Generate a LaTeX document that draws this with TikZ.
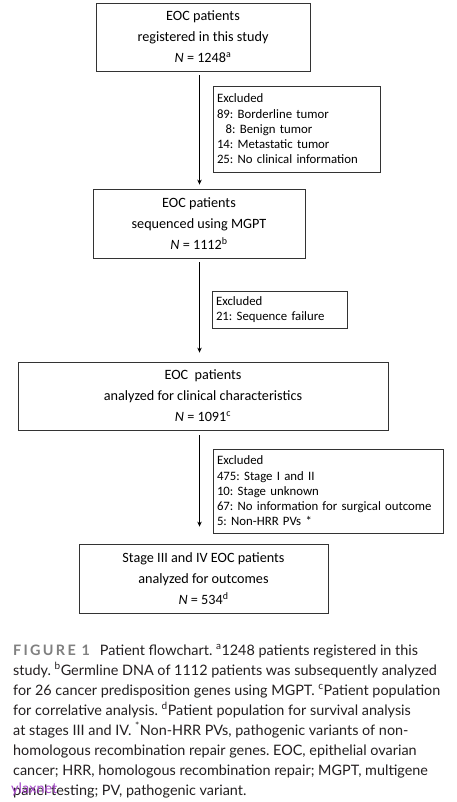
\documentclass[tikz,border=0pt]{standalone}
\usepackage{fontspec}
\setmainfont{Carlito}
\newfontfamily\capfont{Lato}
\usetikzlibrary{arrows.meta}
\definecolor{boxline}{HTML}{333333}
\definecolor{capgray}{HTML}{808080}
\definecolor{captext}{HTML}{231F20}
\definecolor{wmark}{HTML}{A64AC9}
\frenchspacing
\begin{document}
\begin{tikzpicture}[x=1pt,y=-1pt,
  mainbox/.style={draw=boxline, line width=0.8pt, align=center, inner sep=0pt,
    font=\fontsize{14.2}{21}\selectfont},
  exbox/.style={draw=boxline, line width=0.8pt, align=left, inner xsep=4pt, inner ysep=0pt,
    font=\fontsize{12.8}{15.2}\selectfont},
  flow/.style={-{Stealth[length=5pt,width=4.5pt]}, line width=0.8pt, black},
  capline/.style={anchor=base west, inner sep=0pt, text=captext,
    font=\capfont\fontsize{14.4}{20}\selectfont},
  wm/.style={anchor=base west, inner sep=0pt, text=wmark,
    font=\capfont\fontsize{14.5}{16}\selectfont}
]
\useasboundingbox (0,0) rectangle (457,802);
\fill[white] (0,0) rectangle (457,802);

% main boxes
\node[mainbox, minimum width=214pt, minimum height=68pt] (b1) at (203,37)
  {\rule{0pt}{3pt}EOC patients\\registered in this study\\\textit{N} = 1248\textsuperscript{a}};
\node[mainbox, minimum width=212pt, minimum height=69pt] (b2) at (199,223.5)
  {\rule{0pt}{3pt}EOC patients\\sequenced using MGPT\\\textit{N} = 1112\textsuperscript{b}};
\node[mainbox, minimum width=370pt, minimum height=68pt] (b3) at (203,396)
  {\rule{0pt}{3pt}EOC\ \ patients\\analyzed for clinical characteristics\\\textit{N} = 1091\textsuperscript{c}};
\node[mainbox, minimum width=249pt, minimum height=69pt] (b4) at (203.5,578.5)
  {\rule{0pt}{3pt}Stage III and IV EOC patients\\analyzed for outcomes\\\textit{N} = 534\textsuperscript{d}};

% exclusion boxes
\node[exbox, text width=159pt, minimum height=86pt] (e1) at (296.5,129)
  {Excluded\\89: Borderline tumor\\\phantom{8}\,8: Benign tumor\\14: Metastatic tumor\\25: No clinical information};
\node[exbox, text width=127pt, minimum height=37pt] (e2) at (279.5,309.5)
  {Excluded\\21: Sequence failure};
\node[exbox, text width=222pt, minimum height=84pt] (e3) at (328,491)
  {Excluded\\475: Stage I and II\\10: Stage unknown\\67: No information for surgical outcome\\5: Non-HRR PVs *};

% connectors
\coordinate (ax) at (199.5,0);
\draw[flow, shorten <=4pt, shorten >=4pt] (b1.south -| ax) -- (b2.north -| ax);
\draw[flow, shorten <=4pt, shorten >=9pt] (b2.south -| ax) -- (b3.north -| ax);
\draw[flow, shorten <=5pt, shorten >=17pt] (b3.south -| ax) -- (b4.north -| ax);

% caption
\node[capline] (c1) at (13,655) {{\color{capgray}\bfseries\addfontfeatures{LetterSpace=16}FIGURE 1}\hspace{10pt}Patient flowchart. \textsuperscript{a}1248 patients registered in this};
\node[capline] (c2) at (13,675) {study. \textsuperscript{b}Germline DNA of 1112 patients was subsequently analyzed};
\node[capline] (c3) at (13,695) {for 26 cancer predisposition genes using MGPT. \textsuperscript{c}Patient population};
\node[capline] (c4) at (13,715) {for correlative analysis. \textsuperscript{d}Patient population for survival analysis};
\node[capline] (c5) at (13,735) {at stages III and IV. \textsuperscript{*}Non-HRR PVs, pathogenic variants of non-};
\node[capline] (c6) at (13,755) {homologous recombination repair genes. EOC, epithelial ovarian};
\node[capline] (c7) at (13,775) {cancer; HRR, homologous recombination repair; MGPT, multigene};
\node[capline] (c8) at (13,795) {panel testing; PV, pathogenic variant.};
\node[wm] (w) at (11,793) {ylaxnet};
\end{tikzpicture}
\end{document}
